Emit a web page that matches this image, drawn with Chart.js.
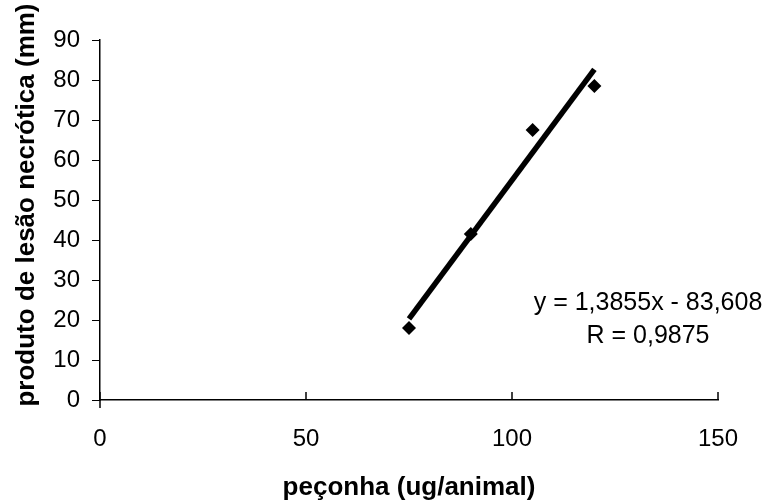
<!DOCTYPE html>
<html><head><meta charset="utf-8">
<script src="https://cdn.jsdelivr.net/npm/chart.js@4.4.1/dist/chart.umd.min.js"></script>
<style>html,body{margin:0;padding:0;background:#fff}#wrap{width:770px;height:503px}</style>
</head><body><div id="wrap"><canvas id="c" width="770" height="503"></canvas></div>
<script>
const venomDose = [75, 90, 105, 120];
const lesionProduct = [18, 41.5, 67.5, 78.5];
const xTickValues = [0, 50, 100, 150];
const yTickValues = [0, 10, 20, 30, 40, 50, 60, 70, 80, 90];
const trendSlope = 1.3855;
const trendIntercept = -83.608;
const rText = '0,9875';
const xTitle = 'peçonha (ug/animal)';
const yTitle = 'produto de lesão necrótica (mm)';

const FONT = "'Liberation Sans', Arial, sans-serif";
const fmt = (v) => String(v).replace('.', ',');
const eqLine1 = 'y = ' + fmt(trendSlope) + 'x - ' + fmt(Math.abs(trendIntercept));
const eqLine2 = 'R = ' + rText;

const xMin = Math.min(...venomDose), xMax = Math.max(...venomDose);
const trendData = [xMin, xMax].map(x => ({x, y: trendSlope * x + trendIntercept}));
const pointData = venomDose.map((x, i) => ({x, y: lesionProduct[i]}));

const extras = {
  id: 'extras',
  afterDraw(chart) {
    const ctx = chart.ctx;
    const xs = chart.scales.x, ys = chart.scales.y;
    ctx.save();
    ctx.strokeStyle = '#000';
    ctx.lineWidth = 1.5;
    xTickValues.forEach(v => {
      const px = Math.round(xs.getPixelForValue(v));
      ctx.beginPath();
      ctx.moveTo(px, ys.bottom);
      ctx.lineTo(px, ys.bottom - 8);
      ctx.stroke();
    });
    ctx.beginPath();
    ctx.moveTo(xs.left, ys.bottom);
    ctx.lineTo(xs.left, ys.bottom + 8);
    ctx.stroke();
    ctx.fillStyle = '#000';
    ctx.font = 'bold 26px ' + FONT;
    ctx.translate(27, 205);
    ctx.rotate(-Math.PI / 2);
    ctx.textAlign = 'center';
    ctx.textBaseline = 'middle';
    ctx.fillText(yTitle, 0, 0);
    ctx.restore();
    ctx.save();
    ctx.fillStyle = '#000';
    ctx.font = '25px ' + FONT;
    ctx.textAlign = 'center';
    ctx.textBaseline = 'alphabetic';
    ctx.fillText(eqLine1, 648, 310);
    ctx.fillText(eqLine2, 648, 343);
    ctx.restore();
  }
};

new Chart(document.getElementById('c'), {
  type: 'scatter',
  data: {
    datasets: [
      {
        label: 'tendência',
        data: trendData,
        showLine: true,
        borderColor: '#000',
        borderWidth: 5.5,
        pointRadius: 0,
        order: 0
      },
      {
        label: 'dados',
        data: pointData,
        pointStyle: 'rectRot',
        pointRadius: 7,
        backgroundColor: '#000',
        borderColor: '#000',
        borderWidth: 0,
        order: 1
      }
    ]
  },
  options: {
    responsive: false,
    devicePixelRatio: 1,
    animation: false,
    layout: { padding: { top: 40, right: 52, left: 0, bottom: 0 } },
    plugins: { legend: { display: false }, tooltip: { enabled: false } },
    scales: {
      x: {
        type: 'linear',
        min: 0, max: 150,
        afterBuildTicks: s => { s.ticks = xTickValues.map(v => ({value: v})); },
        afterFit: s => { s.height = 103; },
        grid: { drawOnChartArea: false, drawTicks: false },
        border: { color: '#000', width: 1.5 },
        ticks: { color: '#000', font: { family: FONT, size: 24 }, padding: 25, maxRotation: 0 },
        title: { display: true, text: xTitle, color: '#000', font: { family: FONT, size: 26, weight: 'bold' }, padding: { top: 0, bottom: 0 } }
      },
      y: {
        type: 'linear',
        min: 0, max: 90,
        afterBuildTicks: s => { s.ticks = yTickValues.map(v => ({value: v})); },
        afterFit: s => { s.width = 100; },
        grid: { drawOnChartArea: false, drawTicks: true, tickLength: 8, color: '#000', lineWidth: 1 },
        border: { color: '#000', width: 1.5 },
        ticks: { color: '#000', font: { family: FONT, size: 24 }, padding: 12 }
      }
    }
  },
  plugins: [extras]
});
</script>
</body></html>
